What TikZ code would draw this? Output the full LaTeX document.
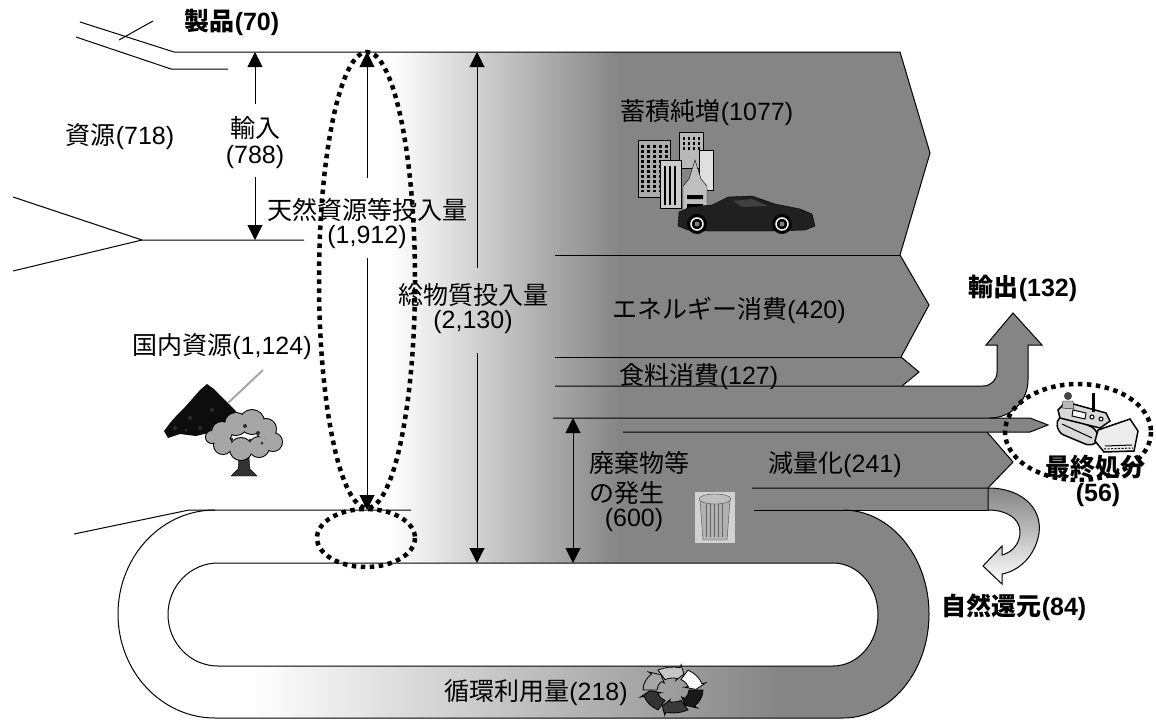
\documentclass[tikz,border=0pt]{standalone}
\usepackage{fontspec}
\setmainfont{Liberation Sans}
\newfontfamily\jpf{Noto Sans CJK JP}
\usetikzlibrary{arrows.meta}
\definecolor{flow}{gray}{0.52}
\newcommand{\lbl}[2]{{\jpf #1}(#2)}
\begin{document}
\begin{tikzpicture}[x=1pt,y=-1pt,
 txt/.style={inner sep=0pt,font=\fontsize{25}{29}\selectfont},
 btxt/.style={inner sep=0pt,font=\fontsize{25}{29}\selectfont\bfseries},
 edge/.style={line width=1pt,draw=black},
 thin/.style={line width=1pt},
 tip/.style={-{Triangle[length=15pt,width=15pt]}},
 twotip/.style={{Triangle[length=15pt,width=15pt]}-{Triangle[length=15pt,width=15pt]}},
 dots/.style={line width=4.5pt,dash pattern=on 4.5pt off 4.5pt}]
\useasboundingbox (0,0) rectangle (1156,723);

% ---------- body fill ----------
\begin{scope}
\clip (174,52) -- (900,52) -- (930,153) -- (900,255) -- (929,305) -- (901,357) -- (919,372) -- (902,386)
 -- (983,386) .. controls (991,386) and (997,380) .. (997,372) -- (997,345) -- (986,345) -- (1013,313)
 -- (1042,345) -- (1028,345) -- (1028,380) .. controls (1028,401) and (1011,418) .. (990,418)
 -- (1030,418) -- (1048,425) -- (1030,432) -- (987,432) -- (1013,462) -- (988,488) -- (988,510)
 -- (843,510) arc[start angle=-90,end angle=90,x radius=86,y radius=104]
 -- (215,718) arc[start angle=90,end angle=270,x radius=97,y radius=104] -- (174,510) -- cycle;
\shade[left color=white,right color=flow] (390,40) rectangle (620,563);
\fill[flow] (620,40) rectangle (1100,563);
\shade[left color=white,right color=flow] (250,563) rectangle (780,725);
\fill[flow] (780,563) rectangle (1100,725);
\end{scope}

% inner hole of the loop
\path[fill=white,edge] (218,563) -- (833,563) arc[start angle=-90,end angle=90,x radius=45,y radius=51.5]
 -- (218,666) arc[start angle=90,end angle=270,x radius=50,y radius=51.5] -- cycle;

% natural return curl
\path[draw=black,line width=1pt,top color=flow,bottom color=white]
 (988,488) .. controls (1025,488) and (1045,512) .. (1038,538) .. controls (1033,558) and (1018,571) .. (1002,574)
 -- (1002,584) -- (983,566) -- (1002,546) -- (1002,555) .. controls (1013,552) and (1020,543) .. (1020,532)
 .. controls (1020,518) and (1006,510) .. (988,510) -- cycle;

% ---------- outlines ----------
\draw[edge] (174,52) -- (900,52) -- (930,153) -- (900,255) -- (929,305) -- (901,357) -- (919,372) -- (902,386);
\draw[edge] (555,255) -- (900,255);
\draw[edge] (555,357) -- (901,357);
\draw[edge] (555,386) -- (983,386) .. controls (991,386) and (997,380) .. (997,372) -- (997,345) -- (986,345)
 -- (1013,313) -- (1042,345) -- (1028,345) -- (1028,380) .. controls (1028,401) and (1011,418) .. (990,418);
\draw[edge] (553,418) -- (1030,418) -- (1048,425) -- (1030,432) -- (623,432);
\draw[edge] (987,432) -- (1013,462) -- (988,488) -- (752,488);
\draw[edge] (754,510) -- (988,510);
\draw[edge] (843,510) arc[start angle=-90,end angle=90,x radius=86,y radius=104]
 -- (215,718) arc[start angle=90,end angle=270,x radius=97,y radius=104];

% left lines
\draw[thin] (80,22) -- (174,52);
\draw[thin] (76,37) -- (171,69) -- (228,69);
\draw[thin] (119,40) -- (153,21);
\draw[thin] (13,197) -- (142,240) -- (304,240);
\draw[thin] (13,271) -- (142,240);
\draw[thin] (74,534) -- (189,510) -- (411,510);

% ---------- icons ----------
% trees
\path[fill=gray!10!black] (164,431) -- (170,423) -- (177,415) -- (185,407) -- (193,398) -- (200,390)
 -- (207,384) -- (214,389) -- (221,396) -- (228,403) -- (235,410) -- (242,419)
 -- (239,429) -- (228,434) -- (212,432) -- (196,436) -- (180,434) -- (168,438) -- cycle;
\fill[gray!35!black] (175,428) circle(2) (190,418) circle(2) (200,428) circle(2) (212,410) circle(2) (186,430) circle(1.5);
\draw[gray!70,line width=2pt] (263,370) -- (228,403);
\path[fill=gray!40!black,draw=black] (240,446) -- (248,446) -- (250,469) -- (257,476) -- (231,476) -- (238,469) -- cycle;
\foreach \p/\r in {{(222,432)}/10,{(236,424)}/11,{(252,422)}/12,{(266,429)}/10,{(273,442)}/9,{(259,447)}/10,{(241,449)}/11,{(223,445)}/9,{(212,437)}/6}
 \draw[line width=2pt] \p circle(\r);
\foreach \p/\r in {{(222,432)}/10,{(236,424)}/11,{(252,422)}/12,{(266,429)}/10,{(273,442)}/9,{(259,447)}/10,{(241,449)}/11,{(223,445)}/9,{(212,437)}/6}
 \fill[gray!70] \p circle(\r);
\fill[gray!35!black] (245,426) circle(2) (258,433) circle(2) (232,439) circle(1.5) (262,443) circle(1.5) (250,440) circle(1.5);

% buildings
\path[fill=gray!55,draw=black] (679,132) rectangle (703,168);
\foreach \x in {684,689,694,699} \draw[line width=2pt,dash pattern=on 3pt off 2pt] (\x,137) -- (\x,150);
\path[fill=gray!25,draw=black] (699,150) rectangle (713,190);
\path[fill=gray!65,draw=black] (638,140) rectangle (670,197);
\foreach \x in {642,648,654,660,666} \draw[line width=3pt,dash pattern=on 3pt off 2pt] (\x,145) -- (\x,192);
\path[fill=gray!40,draw=black] (660,160) rectangle (681,208);
\foreach \x in {665,670,675} \draw[line width=1.5pt] (\x,166) -- (\x,205);
\path[fill=gray!50,draw=black] (683,217) -- (683,186) -- (689,179) -- (695,160) -- (701,179) -- (707,186) -- (707,217) -- cycle;
\fill[black] (687,195) rectangle (703,199) (687,204) rectangle (703,208);
% car
\path[fill=gray!25!black,draw=black] (678,226) -- (679,212) -- (690,207) -- (712,205) -- (728,197) -- (752,196)
 -- (775,204) -- (800,209) -- (812,214) -- (815,226) -- (805,230) -- (770,231) -- (708,231) -- (688,230) -- cycle;
\fill[gray!50!black] (733,201) -- (752,199) -- (768,206) -- (742,207) -- cycle;
\foreach \x in {697,782} {\fill[black] (\x,224) circle(10); \draw[white,line width=1.5pt] (\x,224) circle(6); \fill[gray] (\x,224) circle(2.5);}

% trash can
\fill[gray!35] (695,492) rectangle (735,543);
\path[fill=gray!60,draw=black!70] (700,500) -- (730,500) -- (727,540) -- (703,540) -- cycle;
\foreach \x in {706,710,...,724} \draw[black!60,line width=0.8pt] (\x,504) -- (\x,537);
\path[fill=gray!50,draw=black!70] (715,499) ellipse[x radius=16,y radius=5];

% recycle icon
\begin{scope}[shift={(673,690)}]
\foreach \a/\c in {0/gray!20!black,60/gray!45!black,120/gray!40!black,180/gray!70,240/gray!45,300/white}
 \path[fill=\c,draw=black,line width=0.8pt]
 ({30*cos(\a)},{23*sin(\a)}) arc[start angle=\a,end angle={\a+44},x radius=30,y radius=23]
 -- ({34*cos(\a+44)},{26*sin(\a+44)}) -- ({23*cos(\a+58)},{18*sin(\a+58)})
 -- ({12*cos(\a+44)},{10*sin(\a+44)}) -- ({16*cos(\a+44)},{12*sin(\a+44)})
 arc[start angle={\a+44},end angle=\a,x radius=16,y radius=12] -- cycle;
\end{scope}

% bulldozer
\path[fill=gray!30,draw=black,line width=1.5pt,rounded corners=5pt]
 (1056,421) -- (1064,414) -- (1096,429) -- (1099,441) -- (1090,446) -- (1059,433) -- cycle;
\draw[line width=1pt] (1062,424) -- (1092,438);
\path[fill=gray!30,draw=black,line width=1.5pt] (1058,410) -- (1066,402) -- (1106,413) -- (1110,421) -- (1100,428) -- (1060,418) -- cycle;
\path[fill=white,draw=black,line width=1pt] (1073,410) -- (1086,413) -- (1085,419) -- (1072,416) -- cycle;
\draw[line width=1pt,fill=white] (1092,417) circle(2) (1101,419) circle(2);
\draw[line width=3pt] (1093,393) -- (1093,412);
\fill[gray!55!black] (1068,396) circle(4);
\path[fill=gray!55,draw=black] (1063,401) -- (1073,401) -- (1074,409) -- (1062,408) -- cycle;
\path[fill=gray!15,draw=black,line width=1.5pt] (1098,430) -- (1130,419) -- (1138,431) -- (1134,451) -- (1104,452) -- (1095,441) -- cycle;
\draw[line width=1pt] (1105,446) -- (1132,445);
\draw[line width=1pt,dash pattern=on 2pt off 1.5pt] (1104,449) -- (1133,448);

% ---------- texts ----------
\node[btxt] (seihin) at (232,22) {\lbl{製品}{70}};
\node[txt] (shigen) at (120,137) {\lbl{資源}{718}};
\node[txt] (yunyu) at (255,128) {\jpf 輸入};
\node[txt] (yunyuv) at (255,157) {(788)};
\node[txt] (nat) at (367,210) {\jpf 天然資源等投入量};
\node[txt] (natv) at (367,237) {(1,912)};
\node[txt] (sou) at (473,295) {\jpf 総物質投入量};
\node[txt] (souv) at (473,322) {(2,130)};
\node[txt] (kokunai) at (222,347) {\lbl{国内資源}{1,124}};
\node[txt] (chiku) at (707,113) {\lbl{蓄積純増}{1077}};
\node[txt] (ene) at (729,310) {\lbl{エネルギー消費}{420}};
\node[txt] (food) at (699,377) {\lbl{食料消費}{127}};
\node[btxt] (export) at (1023,288) {\lbl{輸出}{132}};
\node[txt,anchor=west] (hai1) at (589,463) {\jpf 廃棄物等};
\node[txt,anchor=west] (hai2) at (589,493) {\jpf の発生};
\node[txt] (hai3) at (634,520) {(600)};
\node[txt] (gen) at (835,465) {\lbl{減量化}{241}};
\node[btxt] (saishu) at (1095,467) {\jpf 最終処分};
\node[btxt] (saishuv) at (1098,495) {(56)};
\node[btxt] (shizen) at (1014,607) {\lbl{自然還元}{84}};
\node[txt] (junkan) at (536,693) {\lbl{循環利用量}{218}};

% ---------- dotted ellipses ----------
\draw[dots] (367,280) ellipse[x radius=48,y radius=228];
\draw[dots] (366,538) ellipse[x radius=49,y radius=29];
\draw[dots] (1078,432) ellipse[x radius=73,y radius=48];

% ---------- dimension arrows ----------
\coordinate (imT) at (255,52); \coordinate (imA) at (255,104);
\coordinate (imB) at (255,177); \coordinate (imD) at (255,240);
\draw[thin,tip] (imA) -- (imT);
\draw[thin,tip] (imB) -- (imD);
\coordinate (naT) at (367,52); \coordinate (naA) at (367,178);
\coordinate (naB) at (367,258); \coordinate (naD) at (367,510);
\draw[thin,tip] (naA) -- (naT);
\draw[thin,tip] (naB) -- (naD);
\coordinate (soT) at (477,52); \coordinate (soA) at (477,268);
\coordinate (soB) at (477,353); \coordinate (soD) at (477,563);
\draw[thin,tip] (soA) -- (soT);
\draw[thin,tip] (soB) -- (soD);
\coordinate (haT) at (573,418); \coordinate (haD) at (573,563);
\draw[thin,twotip] (haT) -- (haD);
\end{tikzpicture}
\end{document}
